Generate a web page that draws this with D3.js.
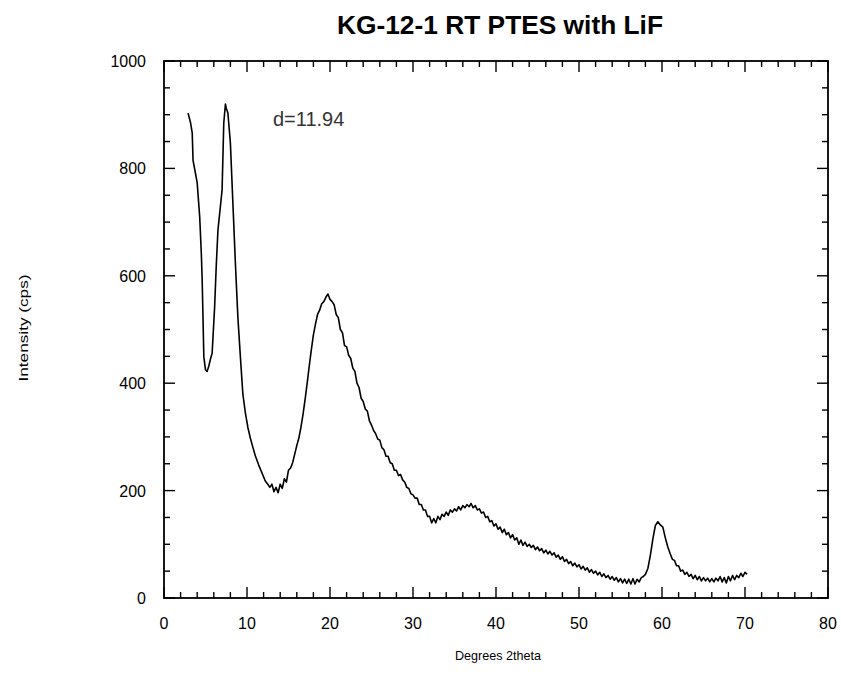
<!DOCTYPE html>
<html><head><meta charset="utf-8">
<script src="https://cdn.jsdelivr.net/npm/d3@7"></script>
<style>body{margin:0;background:#fff}</style>
</head><body>
<script>
const titleText = "KG-12-1 RT PTES with LiF";
const xLabel = "Degrees 2theta";
const yLabel = "Intensity (cps)";
const annotation = "d=11.94";
const xTicks = [0,10,20,30,40,50,60,70,80];
const yTicks = [0,200,400,600,800,1000];
const xs = [2.9,3.2,3.4,3.5,3.8,4.0,4.3,4.5,4.6,4.8,5.0,5.2,5.4,5.6,5.8,6.1,6.3,6.5,6.8,7.0,7.2,7.4,7.5,7.7,8.0,8.3,8.6,8.9,9.2,9.5,9.8,10.1,10.4,10.7,11.0,11.4,11.8,12.2,
12.5,12.75,13,13.25,13.5,13.75,14,14.25,14.5,14.75,15,15.25,15.5,15.75,16,16.25,16.5,16.75,17,17.25,17.5,17.75,18,18.25,18.5,18.75,19,19.25,19.5,19.75,20,20.25,20.5,20.75,21,21.25,21.5,21.75,22,22.25,22.5,22.75,23,23.25,23.5,23.75,24,24.25,24.5,24.75,25,25.25,25.5,25.75,26,26.25,26.5,26.75,27,27.25,27.5,27.75,28,28.25,28.5,28.75,29,29.25,29.5,29.75,30,30.25,30.5,30.75,31,31.25,31.5,31.75,32,32.25,32.5,32.75,33,33.25,33.5,33.75,34,34.25,34.5,34.75,35,35.25,35.5,35.75,36,36.25,36.5,36.75,37,37.25,37.5,37.75,38,38.25,38.5,38.75,39,39.25,39.5,39.75,40,40.25,40.5,40.75,41,41.25,41.5,41.75,42,42.25,42.5,42.75,43,43.25,43.5,43.75,44,44.25,44.5,44.75,45,45.25,45.5,45.75,46,46.25,46.5,46.75,47,47.25,47.5,47.75,48,48.25,48.5,48.75,49,49.25,49.5,49.75,50,50.25,50.5,50.75,51,51.25,51.5,51.75,52,52.25,52.5,52.75,53,53.25,53.5,53.75,54,54.25,54.5,54.75,55,55.25,55.5,55.75,56,56.25,56.5,56.75,57,57.25,57.5,57.75,58,
58.3,58.6,58.9,59.2,59.5,59.8,60.1,60.4,60.7,61,61.25,61.5,61.75,62,62.25,62.5,62.75,63,63.25,63.5,63.75,64,64.25,64.5,64.75,65,65.25,65.5,65.75,66,66.25,66.5,66.75,67,67.25,67.5,67.75,68,68.25,68.5,68.75,69,69.25,69.5,69.75,70,70.25];
const ys = [903,885,866,815,790,773,710,640,592,449,425,422,432,445,456,542,620,685,730,760,884,920,912,903,847,735,624,523,450,380,345,318,298,281,265,248,233,218,
212,206,212,198,206,196,212,204,222,216,238,242,252,268,284,298,318,342,370,400,432,462,490,510,528,536,548,552,560,566,556,552,546,528,522,500,494,470,468,452,446,428,422,400,392,372,366,352,348,330,322,312,306,296,294,280,276,264,264,252,250,238,238,228,230,220,216,206,204,194,192,186,186,174,174,164,164,152,152,140,148,140,152,146,156,152,160,154,164,160,166,162,170,164,172,168,174,170,176,168,172,164,166,158,160,150,152,142,144,134,138,128,132,122,128,118,122,112,118,108,112,100,108,98,104,96,100,94,98,90,95,88,92,84,89,82,87,80,84,76,80,72,77,68,72,64,68,60,65,58,62,54,59,52,56,48,53,46,50,43,48,40,45,38,42,35,40,33,38,30,36,28,35,27,35,26,36,26,35,30,38,40,44,
55,80,110,135,142,136,132,112,95,82,72,70,60,60,50,52,44,48,40,44,36,42,34,40,32,38,32,37,30,36,30,37,32,40,30,38,28,40,32,42,34,42,38,46,40,48,44];

const W = 841, H = 690;
const svg = d3.select("body").append("svg").attr("width", W).attr("height", H);
const x = d3.scaleLinear().domain([0,80]).range([164,828]);
const y = d3.scaleLinear().domain([0,1000]).range([598,61]);
const axisFont = "'Liberation Sans Narrow','Liberation Sans',Arial,sans-serif";
const mainFont = "'Liberation Sans',Arial,sans-serif";

// frame
svg.append("rect").attr("x",164).attr("y",61).attr("width",664).attr("height",537)
  .attr("fill","none").attr("stroke","#000").attr("stroke-width",1.8);

const xMinor = d3.range(0,81,2), yMinor = d3.range(0,1001,50);
const g = svg.append("g").attr("stroke","#000").attr("stroke-width",1.4);
xMinor.forEach(v=>{
  const L = v%10===0 ? 11 : 6;
  g.append("line").attr("x1",x(v)).attr("x2",x(v)).attr("y1",y(0)).attr("y2",y(0)-L);
  g.append("line").attr("x1",x(v)).attr("x2",x(v)).attr("y1",y(1000)).attr("y2",y(1000)+L);
});
yMinor.forEach(v=>{
  const L = v%200===0 ? 11 : 6;
  g.append("line").attr("y1",y(v)).attr("y2",y(v)).attr("x1",x(0)).attr("x2",x(0)+L);
  g.append("line").attr("y1",y(v)).attr("y2",y(v)).attr("x1",x(80)).attr("x2",x(80)-L);
});

svg.selectAll(".xt").data(xTicks).enter().append("text")
  .attr("x",d=>x(d)).attr("y",629).attr("text-anchor","middle")
  .attr("font-family",axisFont).attr("font-size",16).text(d=>d);
svg.selectAll(".yt").data(yTicks).enter().append("text")
  .attr("x",146).attr("y",d=>y(d)+6).attr("text-anchor","end")
  .attr("font-family",axisFont).attr("font-size",16).text(d=>d);

const line = d3.line().x((d,i)=>x(xs[i])).y((d,i)=>y(ys[i]));
svg.append("path").datum(ys).attr("d",line).attr("fill","none")
  .attr("stroke","#000").attr("stroke-width",1.6).attr("stroke-linejoin","round");

svg.append("text").attr("x",500).attr("y",34).attr("text-anchor","middle")
  .attr("font-family",mainFont).attr("font-weight","bold")
  .attr("font-size",26).attr("textLength",326).attr("lengthAdjust","spacingAndGlyphs")
  .text(titleText);
svg.append("text").attr("x",273).attr("y",126)
  .attr("font-family",mainFont).attr("font-size",20)
  .attr("fill","#333").text(annotation);
svg.append("text").attr("x",498).attr("y",660).attr("text-anchor","middle")
  .attr("font-family",mainFont).attr("font-size",13.5)
  .attr("textLength",86).attr("lengthAdjust","spacingAndGlyphs").text(xLabel);
svg.append("text").attr("transform","translate(28,328) rotate(-90)").attr("text-anchor","middle")
  .attr("font-family",mainFont).attr("font-size",13.5)
  .attr("textLength",107).attr("lengthAdjust","spacingAndGlyphs").text(yLabel);
</script>
</body></html>
